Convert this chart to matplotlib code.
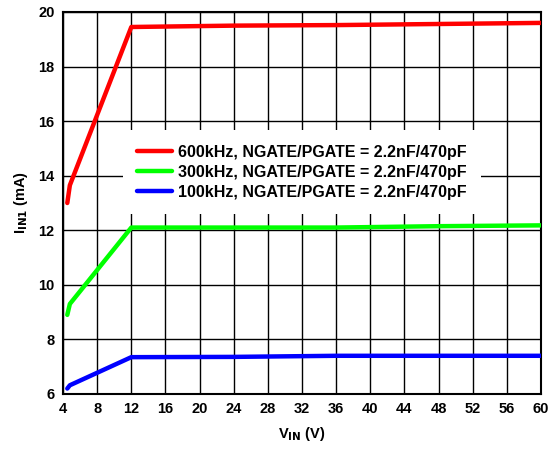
import matplotlib
matplotlib.use("Agg")
import matplotlib.pyplot as plt

plt.rcParams['font.family'] = ['Liberation Sans', 'DejaVu Sans']
plt.rcParams['font.weight'] = 'bold'

vin_600 = [4.5, 4.8, 12, 24, 36, 48, 60]
iin_600 = [13.0, 13.65, 19.45, 19.5, 19.52, 19.56, 19.6]
vin_300 = [4.5, 4.8, 12, 24, 36, 48, 60]
iin_300 = [8.9, 9.3, 12.1, 12.1, 12.1, 12.15, 12.18]
vin_100 = [4.5, 4.8, 12, 24, 36, 48, 60]
iin_100 = [6.2, 6.32, 7.35, 7.36, 7.4, 7.4, 7.4]
labels = ["600kHz, NGATE/PGATE = 2.2nF/470pF",
          "300kHz, NGATE/PGATE = 2.2nF/470pF",
          "100kHz, NGATE/PGATE = 2.2nF/470pF"]
colors = ["#ff0000", "#00ff00", "#0000ff"]
xticks = list(range(4, 61, 4))
yticks = list(range(6, 21, 2))

fig = plt.figure(figsize=(5.49, 4.49), dpi=100)
ax = fig.add_axes([0.1148, 0.1225, 0.8706, 0.8508])
for x, y, c, l in zip([vin_600, vin_300, vin_100], [iin_600, iin_300, iin_100], colors, labels):
    ax.plot(x, y, color=c, lw=3.2, label=l, solid_capstyle='round', zorder=3)

ax.set_xlim(4, 60)
ax.set_ylim(6, 20)
ax.set_xticks(xticks)
ax.set_yticks(yticks)
ax.grid(True, color='black', lw=1.0, zorder=1)
ax.tick_params(length=0, labelsize=10.5, pad=6)
for lab in ax.get_xticklabels() + ax.get_yticklabels():
    lab.set_fontweight('bold')
for s in ax.spines.values():
    s.set_linewidth(1.5)
ax.set_xlabel(r"V$_{\mathbf{IN}}$ (V)", fontsize=10.5, fontweight='bold', labelpad=6)
ax.set_ylabel(r"I$_{\mathbf{IN1}}$ (mA)", fontsize=10.5, fontweight='bold', labelpad=6)

leg = ax.legend(loc='center', bbox_to_anchor=(0.500, 0.580), fontsize=11.5,
                frameon=True, fancybox=False, handlelength=2.2, handletextpad=0.4,
                labelspacing=0.32, borderpad=0.9)
leg.get_frame().set_facecolor('white')
leg.get_frame().set_edgecolor('none')
leg.get_frame().set_alpha(1)
leg.set_zorder(5)
for t in leg.get_texts():
    t.set_fontweight('bold')

fig.savefig("out.png", dpi=100)
